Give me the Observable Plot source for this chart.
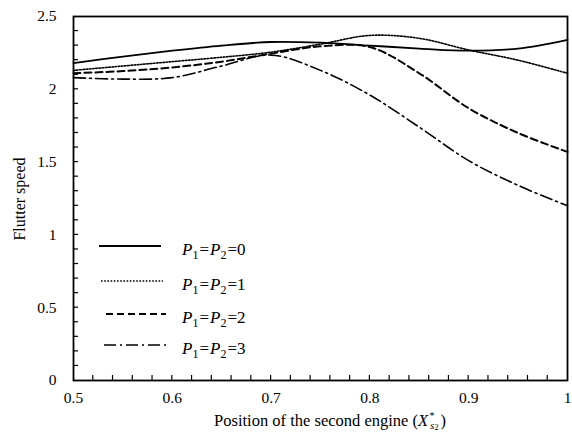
<!DOCTYPE html>
<html><head><meta charset="utf-8">
<script src="https://cdn.jsdelivr.net/npm/d3@7"></script>
<script src="https://cdn.jsdelivr.net/npm/@observablehq/plot@0.6"></script>
<style>body{margin:0;background:#fff}</style>
</head><body><div id="chart"></div>
<script>
// ---- data ----
const positions = [0.5, 0.55, 0.6, 0.65, 0.7, 0.75, 0.8, 0.85, 0.9, 0.95, 1.0];
const speedP0 = [2.18, 2.225, 2.265, 2.30, 2.325, 2.32, 2.30, 2.28, 2.265, 2.28, 2.34];
const speedP1 = [2.13, 2.16, 2.19, 2.22, 2.255, 2.31, 2.37, 2.35, 2.27, 2.20, 2.11];
const speedP2 = [2.11, 2.125, 2.15, 2.19, 2.245, 2.295, 2.29, 2.11, 1.87, 1.70, 1.57];
const speedP3 = [2.08, 2.07, 2.08, 2.16, 2.235, 2.13, 1.96, 1.74, 1.51, 1.34, 1.20];
const seriesKeys = ["0", "1", "2", "3"];
const xTickValues = [0.5, 0.6, 0.7, 0.8, 0.9, 1];
const yTickValues = [0, 0.5, 1, 1.5, 2, 2.5];
const xMinorTicks = d3.range(26, 50).map(i => i / 50);
const yMinorTicks = d3.range(1, 25).map(i => i / 10);
const xDomain = [0.5, 1];
const yDomain = [0, 2.5];

const allSeries = [speedP0, speedP1, speedP2, speedP3];
const table = [];
allSeries.forEach((vals, i) => vals.forEach((v, j) => table.push({x: positions[j], y: v, s: seriesKeys[i]})));

const lineStyles = {
  "0": {strokeWidth: 1.8, strokeDasharray: null},
  "1": {strokeWidth: 1.6, strokeDasharray: "1.6 1.6"},
  "2": {strokeWidth: 2, strokeDasharray: "7 4"},
  "3": {strokeWidth: 1.6, strokeDasharray: "12 4 2 4"}
};

const W = 572, H = 434, mL = 73, mR = 5, mT = 16, mB = 54;

const lineMarks = seriesKeys.map(k => Plot.line(table.filter(d => d.s === k), {
  x: "x", y: "y", stroke: "#000", curve: "catmull-rom",
  strokeWidth: lineStyles[k].strokeWidth,
  strokeDasharray: lineStyles[k].strokeDasharray
}));

const chart = Plot.plot({
  width: W, height: H,
  marginLeft: mL, marginRight: mR, marginTop: mT, marginBottom: mB,
  style: {fontFamily: "Liberation Serif, Times New Roman, serif", fontSize: "15px", color: "#000", background: "#fff"},
  x: {domain: xDomain},
  y: {domain: yDomain},
  marks: [
    Plot.axisX(xTickValues, {tickSize: 0, tickPadding: 11, tickFormat: d => String(d), label: null, fontSize: 15.5}),
    Plot.axisY(yTickValues, {tickSize: 0, tickPadding: 17, tickFormat: d => String(d), label: null, fontSize: 15.5}),
    ...lineMarks,
    Plot.frame({stroke: "#000", strokeWidth: 1.8})
  ]
});
document.getElementById("chart").append(chart);

// ---- minor ticks (inward), placed through the plot's own scales ----
const svg = d3.select(chart);
const sx = chart.scale("x"), sy = chart.scale("y");
const y0 = sy.apply(yDomain[0]), x0 = sx.apply(xDomain[0]);
const tg = svg.append("g").attr("stroke", "#000").attr("stroke-width", 1.2);
xMinorTicks.forEach(v => {
  const px = sx.apply(v);
  tg.append("line").attr("x1", px).attr("x2", px).attr("y1", y0).attr("y2", y0 - 5);
});
yMinorTicks.forEach(v => {
  const py = sy.apply(v);
  tg.append("line").attr("x1", x0).attr("x2", x0 + 5).attr("y1", py).attr("y2", py);
});

// ---- labels and legend ----
const serif = "Liberation Serif, Times New Roman, serif";
svg.append("text")
  .attr("transform", "translate(25,199) rotate(-90)")
  .attr("text-anchor", "middle")
  .attr("font-family", serif).attr("font-size", 16).attr("fill", "#000")
  .text("Flutter speed");

const xl = svg.append("text")
  .attr("x", 330).attr("y", 426)
  .attr("text-anchor", "middle")
  .attr("font-family", serif).attr("font-size", 16.5).attr("fill", "#000");
xl.append("tspan").text("Position of the second engine (");
xl.append("tspan").attr("font-style", "italic").text("X");
xl.append("tspan").attr("font-size", 10).attr("dx", 1).attr("dy", -7).attr("font-style", "italic").text("*");
xl.append("tspan").attr("font-size", 11).attr("dx", -4).attr("dy", 10).attr("font-style", "italic").text("s");
xl.append("tspan").attr("font-size", 8).attr("dy", 1).text("2");
xl.append("tspan").attr("dx", 2).attr("dy", -4).text(")");

const legendRows = [
  {k: "0", y: 246, x1: 99, x2: 161},
  {k: "1", y: 281, x1: 101, x2: 163},
  {k: "2", y: 314, x1: 106, x2: 166},
  {k: "3", y: 345, x1: 104, x2: 167}
];
const lg = svg.append("g").attr("text-anchor", "start");
legendRows.forEach(r => {
  const st = lineStyles[r.k];
  lg.append("line").attr("x1", r.x1).attr("x2", r.x2).attr("y1", r.y).attr("y2", r.y)
    .attr("stroke", "#000").attr("stroke-width", st.strokeWidth)
    .attr("stroke-dasharray", st.strokeDasharray);
  const t = lg.append("text").attr("x", 182).attr("y", r.y + 9)
    .attr("text-anchor", "start")
    .attr("font-family", serif).attr("font-size", 17).attr("fill", "#000");
  t.append("tspan").attr("font-style", "italic").text("P");
  t.append("tspan").attr("font-size", 12).attr("dy", 4).text("1");
  t.append("tspan").attr("dx", 1).attr("dy", -4).text("=");
  t.append("tspan").attr("dx", 1).attr("font-style", "italic").text("P");
  t.append("tspan").attr("font-size", 12).attr("dy", 4).text("2");
  t.append("tspan").attr("dx", 1).attr("dy", -4).text("=" + r.k);
});
</script>
</body></html>
